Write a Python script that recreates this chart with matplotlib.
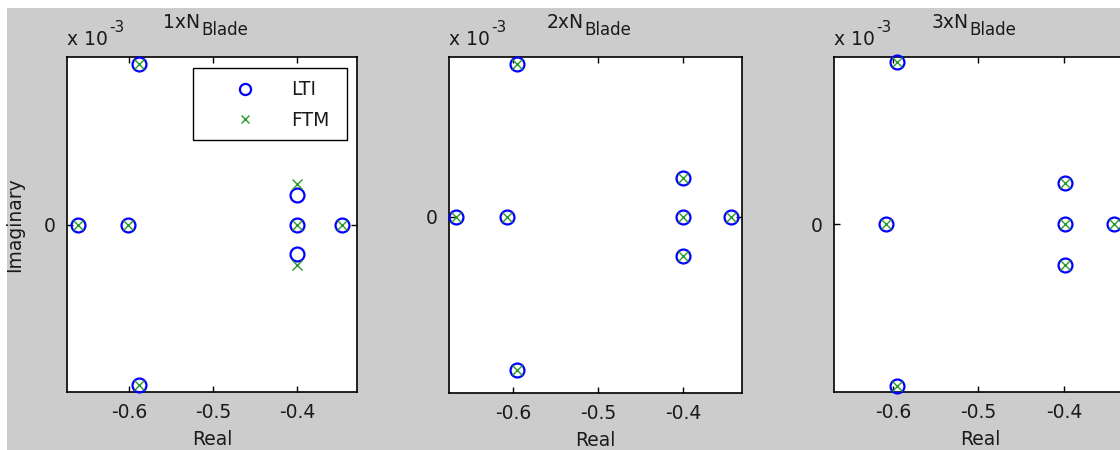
"""
Pole maps (LTI vs FTM) for 1x, 2x and 3x N_Blade, MATLAB-style look.
"""

import matplotlib
matplotlib.use("Agg")
import matplotlib.pyplot as plt
from matplotlib.patches import Rectangle

plt.rcParams["font.family"] = ["DejaVu Sans"]
plt.rcParams["axes.unicode_minus"] = False

# poles, imaginary part in units of 1e-3
title_main = ["1xN", "2xN", "3xN"]
title_sub = "Blade"

lti_re_1 = [-0.661, -0.601, -0.588, -0.588, -0.400, -0.400, -0.400, -0.346]
lti_im_1 = [0.0, 0.0, 2.0, -2.0, 0.37, 0.0, -0.37, 0.0]
ftm_re_1 = [-0.661, -0.601, -0.588, -0.588, -0.400, -0.400, -0.400, -0.346]
ftm_im_1 = [0.0, 0.0, 2.0, -2.0, 0.51, 0.0, -0.51, 0.0]

lti_re_2 = [-0.667, -0.607, -0.595, -0.595, -0.400, -0.400, -0.400, -0.3435]
lti_im_2 = [0.0, 0.0, 2.0, -2.0, 0.51, 0.0, -0.51, 0.0]
ftm_re_2 = lti_re_2
ftm_im_2 = lti_im_2

lti_re_3 = [-0.608, -0.595, -0.595, -0.399, -0.399, -0.399, -0.3415]
lti_im_3 = [0.0, 2.0, -2.0, 0.51, 0.0, -0.51, 0.0]
ftm_re_3 = lti_re_3
ftm_im_3 = lti_im_3

xlims = [(-0.6738, -0.3286), (-0.6753, -0.3306), (-0.669, -0.3263)]
ylims = [(-2.087, 2.087), (-2.30, 2.09), (-2.07, 2.06)]

series = [
    (lti_re_1, lti_im_1, ftm_re_1, ftm_im_1),
    (lti_re_2, lti_im_2, ftm_re_2, ftm_im_2),
    (lti_re_3, lti_im_3, ftm_re_3, ftm_im_3),
]

W, H = 1120, 450
# axes boxes in pixels: left, top, right, bottom
boxes = [(67, 57, 357, 392), (449, 57, 742, 393), (834, 57, 1127, 392)]

fig = plt.figure(figsize=(11.2, 4.5), dpi=100, facecolor="white")
fig.patches.append(Rectangle((7 / W, 0), 1, (H - 8) / H, transform=fig.transFigure,
                             facecolor="#cccccc", edgecolor="none", zorder=-10))

fs = 13.5
green = "#2a9a2a"
txtc = "#1a1a1a"
for i, (l, t, r, b) in enumerate(boxes):
    ax = fig.add_axes([l / W, (H - b) / H, (r - l) / W, (b - t) / H])
    lre, lim, fre, fim = series[i]
    ax.plot(lre, lim, "o", ls="none", mfc="none", mec="#0000ff", ms=10, mew=1.6,
            label="LTI", clip_on=False, zorder=3)
    ax.plot(fre, fim, "x", ls="none", color=green, ms=7, mew=1.0,
            label="FTM", clip_on=False, zorder=4)
    ax.set_xlim(*xlims[i])
    ax.set_ylim(*ylims[i])
    ax.set_xticks([-0.6, -0.5, -0.4])
    ax.set_xticklabels(["-0.6", "-0.5", "-0.4"])
    ax.set_yticks([0])
    ax.set_yticklabels(["0"])
    ax.tick_params(direction="in", length=4, width=1, top=True, right=True,
                   labelsize=fs, labelcolor=txtc, color="black")
    ax.tick_params(axis="x", pad=8)
    ax.tick_params(axis="y", pad=8)
    for sp in ax.spines.values():
        sp.set_linewidth(1.2)
    ax.set_xlabel("Real", fontsize=fs, labelpad=6, color=txtc)

    # title with a near full-size subscript
    tm = ax.text(0.332, 1.087, title_main[i], transform=ax.transAxes,
                 fontsize=fs, ha="left", va="baseline", color=txtc)
    ax.annotate(title_sub, xy=(1, 0), xycoords=tm, xytext=(0.5, -2.5),
                textcoords="offset points", fontsize=12, ha="left",
                va="baseline", color=txtc)

    # exponent label
    ex = ax.text(0.0, 1.036, "x 10", transform=ax.transAxes, fontsize=fs,
                 ha="left", va="baseline", color=txtc)
    ax.annotate("-3", xy=(1, 0.75), xycoords=ex, xytext=(1, 0),
                textcoords="offset points", fontsize=11, ha="left",
                va="bottom", color=txtc)

    if i == 0:
        ax.set_ylabel("Imaginary", fontsize=fs, labelpad=14, color=txtc)
        leg = ax.legend(loc="upper left", bbox_to_anchor=(0.4345, 0.967),
                        borderaxespad=0, frameon=False, fontsize=fs,
                        handlelength=4.2, handletextpad=0.4, borderpad=0.65,
                        labelspacing=0.62, markerscale=0.8)
        for tx in leg.get_texts():
            tx.set_color(txtc)
        ax.add_patch(Rectangle((0.4345, 0.752), 0.966 - 0.4345, 0.967 - 0.752,
                               transform=ax.transAxes, facecolor="none",
                               edgecolor="black", lw=1.0, zorder=5))

fig.savefig("out.png", dpi=100, facecolor=fig.get_facecolor())
